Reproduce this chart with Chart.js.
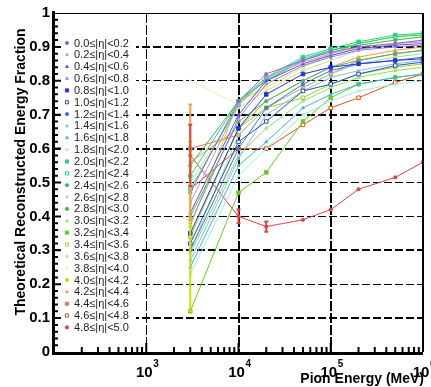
<!DOCTYPE html>
<html>
<head>
<meta charset="utf-8">
<script src="https://cdn.jsdelivr.net/npm/chart.js@4.4.0/dist/chart.umd.min.js"></script>
<style>
  html, body { margin: 0; padding: 0; background: #fff; }
</style>
</head>
<body>
<canvas id="chart" width="431" height="387"></canvas>
<script>
// pion energies (MeV)
const energies = [3000, 10000, 20000, 50000, 100000, 200000, 500000, 1000000];

const etaBins = [
  '0.0≤|η|<0.2', '0.2≤|η|<0.4', '0.4≤|η|<0.6', '0.6≤|η|<0.8', '0.8≤|η|<1.0',
  '1.0≤|η|<1.2', '1.2≤|η|<1.4', '1.4≤|η|<1.6', '1.6≤|η|<1.8', '1.8≤|η|<2.0',
  '2.0≤|η|<2.2', '2.2≤|η|<2.4', '2.4≤|η|<2.6', '2.6≤|η|<2.8', '2.8≤|η|<3.0',
  '3.0≤|η|<3.2', '3.2≤|η|<3.4', '3.4≤|η|<3.6', '3.6≤|η|<3.8', '3.8≤|η|<4.0',
  '4.0≤|η|<4.2', '4.2≤|η|<4.4', '4.4≤|η|<4.6', '4.6≤|η|<4.8', '4.8≤|η|<5.0'
];

// reconstructed energy fraction per eta bin
const frac00 = [0.47, 0.74, 0.82, 0.86, 0.885, 0.900, 0.910, 0.920];
const frac02 = [0.44, 0.73, 0.81, 0.855, 0.880, 0.900, 0.910, 0.915];
const frac04 = [0.41, 0.70, 0.80, 0.850, 0.875, 0.895, 0.905, 0.910];
const frac06 = [0.38, 0.69, 0.79, 0.845, 0.870, 0.890, 0.900, 0.905];
const frac08 = [0.35, 0.66, 0.76, 0.820, 0.840, 0.850, 0.860, 0.865];
const frac10 = [0.32, 0.62, 0.68, 0.770, 0.790, 0.820, 0.845, 0.855];
const frac12 = [0.30, 0.60, 0.72, 0.790, 0.830, 0.850, 0.860, 0.870];
const frac14 = [0.27, 0.57, 0.70, 0.770, 0.810, 0.830, 0.850, 0.860];
const frac16 = [0.25, 0.55, 0.62, 0.720, 0.760, 0.790, 0.810, 0.820];
const frac18 = [0.23, 0.52, 0.60, 0.700, 0.740, 0.770, 0.790, 0.800];
const frac20 = [0.52, 0.74, 0.81, 0.870, 0.895, 0.915, 0.935, 0.940];
const frac22 = [0.48, 0.73, 0.805, 0.865, 0.890, 0.910, 0.930, 0.935];
const frac24 = [0.40, 0.68, 0.74, 0.800, 0.840, 0.860, 0.880, 0.890];
const frac26 = [0.30, 0.64, 0.72, 0.780, 0.820, 0.850, 0.870, 0.880];
const frac28 = [0.55, 0.74, 0.80, 0.860, 0.890, 0.905, 0.920, 0.930];
const frac30 = [0.29, 0.58, 0.66, 0.740, 0.780, 0.810, 0.830, 0.840];
const frac32 = [0.12, 0.47, 0.53, 0.680, 0.750, 0.790, 0.810, 0.820];
const frac34 = [0.34, 0.66, 0.72, 0.750, 0.790, 0.820, 0.840, 0.850];
const frac36 = [0.50, 0.72, 0.77, 0.830, 0.860, 0.890, 0.910, 0.920];
const frac38 = [0.80, 0.73, 0.78, 0.840, 0.870, 0.900, 0.920, 0.930];
const frac40 = [0.37, 0.74, 0.78, 0.840, 0.880, 0.910, 0.930, 0.940];
const frac42 = [0.56, 0.66, 0.74, 0.800, 0.840, 0.870, 0.890, 0.900];
const frac44 = [0.60, 0.64, 0.72, 0.780, 0.820, 0.860, 0.880, 0.890];
const frac46 = [0.48, 0.60, 0.60, 0.670, 0.720, 0.750, 0.795, 0.820];
const frac48 = [0.58, 0.40, 0.37, 0.390, 0.420, 0.480, 0.515, 0.560];

const fractions = [frac00, frac02, frac04, frac06, frac08, frac10, frac12, frac14, frac16, frac18,
  frac20, frac22, frac24, frac26, frac28, frac30, frac32, frac34, frac36, frac38,
  frac40, frac42, frac44, frac46, frac48];

// [series index, point index, half error]
const errBars = [[20, 0, 0.25], [21, 0, 0.17], [24, 0, 0.09], [24, 1, 0.02], [24, 2, 0.015]];

const lineColors = [
  '#9966cc', '#b399e6', '#6a4fc4', '#8a7cff', '#2233dd',
  '#2255bb', '#4a6fe0', '#88bbe8', '#3fb5d8', '#9eeedd',
  '#33cc88', '#11dd99', '#44bb66', '#99ddaa', '#44bb44',
  '#88dd66', '#66cc22', '#aacc22', '#ccdd88', '#eeeeaa',
  '#ccdd00', '#f0a040', '#ee7744', '#dd5511', '#dd4444'
];
const markers = ['circle', 'star', 'triangle', 'triangle', 'rect', 'rect', 'circle', 'star', 'triangle', 'triangle',
  'rect', 'rect', 'circle', 'star', 'circle', 'triangle', 'rect', 'rect', 'star', 'triangle',
  'circle', 'triangle', 'rect', 'rect', 'circle'];
const openMarker = [0,0,0,1,0,1,0,0,0,1,0,1,0,0,0,1,0,1,0,1,0,0,0,1,0];

const datasets = fractions.map((vals, i) => ({
  label: etaBins[i],
  data: vals.map((v, j) => ({ x: energies[j], y: v })),
  showLine: true,
  borderColor: lineColors[i],
  borderWidth: 1,
  pointStyle: markers[i],
  pointRadius: markers[i] === 'rect' ? 2.5 : 1.6,
  pointBorderWidth: 1,
  pointBorderColor: lineColors[i],
  pointBackgroundColor: openMarker[i] ? '#fff' : lineColors[i]
}));

const FONT = '"Liberation Sans", Arial, sans-serif';

const decorPlugin = {
  id: 'decor',
  afterDatasetsDraw(chart) {
    // error bars
    const ctx = chart.ctx;
    const ys = chart.scales.y;
    ctx.save();
    errBars.forEach(([s, p, e]) => {
      const pt = chart.getDatasetMeta(s).data[p];
      const v = fractions[s][p];
      const y1 = ys.getPixelForValue(v - e), y2 = ys.getPixelForValue(v + e);
      ctx.strokeStyle = lineColors[s];
      ctx.lineWidth = 2;
      ctx.beginPath();
      ctx.moveTo(pt.x, y1); ctx.lineTo(pt.x, y2);
      ctx.moveTo(pt.x - 2, y1); ctx.lineTo(pt.x + 2, y1);
      ctx.moveTo(pt.x - 2, y2); ctx.lineTo(pt.x + 2, y2);
      ctx.stroke();
    });
    ctx.restore();
  },
  afterDraw(chart) {
    const ctx = chart.ctx;
    const a = chart.chartArea;
    const xs = chart.scales.x, ys = chart.scales.y;
    ctx.save();

    // legend box
    ctx.fillStyle = '#fff';
    ctx.fillRect(a.left + 6, 36, 76, 298);

    // frame
    ctx.strokeStyle = '#000';
    ctx.lineWidth = 1;
    ctx.beginPath();
    ctx.moveTo(a.left, a.top + 0.5); ctx.lineTo(a.right, a.top + 0.5);
    ctx.stroke();
    ctx.lineWidth = 2;
    ctx.beginPath();
    ctx.moveTo(a.right, a.top); ctx.lineTo(a.right, a.bottom);
    ctx.stroke();
    ctx.lineWidth = 3;
    ctx.beginPath();
    ctx.moveTo(a.left - 0.5, a.top - 2); ctx.lineTo(a.left - 0.5, a.bottom + 1.5);
    ctx.lineTo(a.right, a.bottom + 1.5);
    ctx.stroke();

    // inner ticks
    ctx.lineWidth = 2;
    ctx.beginPath();
    for (let k = 1; k < 50; k++) {
      const y = ys.getPixelForValue(k / 50);
      const len = k % 5 === 0 ? 7 : 4;
      ctx.moveTo(a.left, y); ctx.lineTo(a.left + len, y);
    }
    for (let d = 2; d <= 5; d++) {
      for (let m = 1; m <= 9; m++) {
        const v = m * Math.pow(10, d);
        if (v <= 100 || v >= 1e6) continue;
        const x = xs.getPixelForValue(v);
        const len = m === 1 ? 9 : 5;
        ctx.moveTo(x, a.bottom); ctx.lineTo(x, a.bottom - len);
      }
    }
    ctx.stroke();

    // x tick labels 10^n
    ctx.fillStyle = '#000';
    ctx.textBaseline = 'alphabetic';
    [3, 4, 5, 6].forEach(n => {
      const x = xs.getPixelForValue(Math.pow(10, n));
      ctx.font = 'bold 15px ' + FONT;
      ctx.textAlign = 'center';
      ctx.fillText('10', x - 2, 377);
      ctx.font = 'bold 10px ' + FONT;
      ctx.textAlign = 'left';
      ctx.fillText(String(n), x + 7, 367);
    });

    // axis titles
    ctx.font = 'bold 14px ' + FONT;
    ctx.textAlign = 'right';
    ctx.fillText('Pion Energy (MeV)', 424, 383);
    ctx.save();
    ctx.translate(21, 172);
    ctx.rotate(-Math.PI / 2);
    ctx.textAlign = 'center';
    ctx.textBaseline = 'middle';
    ctx.fillText('Theoretical Reconstructed Energy Fraction', 0, 0);
    ctx.restore();

    // legend entries
    chart.data.datasets.forEach((ds, i) => {
      const y = 43 + i * 11.85;
      ctx.fillStyle = ds.pointBackgroundColor;
      ctx.strokeStyle = ds.pointBorderColor;
      ctx.lineWidth = 1;
      Chart.helpers.drawPoint(ctx, { pointStyle: ds.pointStyle, rotation: 0, radius: ds.pointStyle === 'rect' ? 2.2 : 1.6, borderWidth: 1 }, a.left + 13, y);
      ctx.fillStyle = '#222';
      ctx.font = '11px ' + FONT;
      ctx.textAlign = 'left';
      ctx.textBaseline = 'middle';
      ctx.fillText(ds.label, a.left + 20, y + 0.5);
    });
    ctx.restore();
  }
};

new Chart(document.getElementById('chart'), {
  type: 'scatter',
  data: { datasets: datasets },
  plugins: [decorPlugin],
  options: {
    responsive: false,
    devicePixelRatio: 1,
    animation: false,
    layout: { padding: { top: 12, right: 8, left: 0, bottom: 0 } },
    plugins: { legend: { display: false }, tooltip: { enabled: false } },
    scales: {
      x: {
        type: 'logarithmic',
        min: 100,
        max: 1000000,
        afterFit: s => { s.height = 35; },
        ticks: { display: false, autoSkip: false },
        border: { display: false, dash: [10, 2] },
        grid: {
          drawTicks: false,
          color: c => [1000, 10000, 100000].includes(c.tick.value) ? '#000' : 'rgba(0,0,0,0)',
          lineWidth: c => c.tick.value === 1000 ? 1 : 2
        }
      },
      y: {
        min: 0,
        max: 1,
        afterFit: s => { s.width = 54; },
        ticks: {
          stepSize: 0.1,
          padding: 4,
          color: '#000',
          font: { family: FONT, size: 15, weight: 'bold' },
          callback: v => {
            const r = Math.round(v * 10) / 10;
            return r === 0 ? '0' : r === 1 ? '1' : r.toFixed(1);
          }
        },
        border: { display: false, dash: [8, 3] },
        grid: {
          drawTicks: false,
          color: c => (c.tick.value > 0.01 && c.tick.value < 0.99) ? '#000' : 'rgba(0,0,0,0)',
          lineWidth: c => {
            const r = Math.round(c.tick.value * 10);
            return [9, 7, 6, 3, 1].includes(r) ? 2 : 1;
          }
        }
      }
    }
  }
});
</script>
</body>
</html>
